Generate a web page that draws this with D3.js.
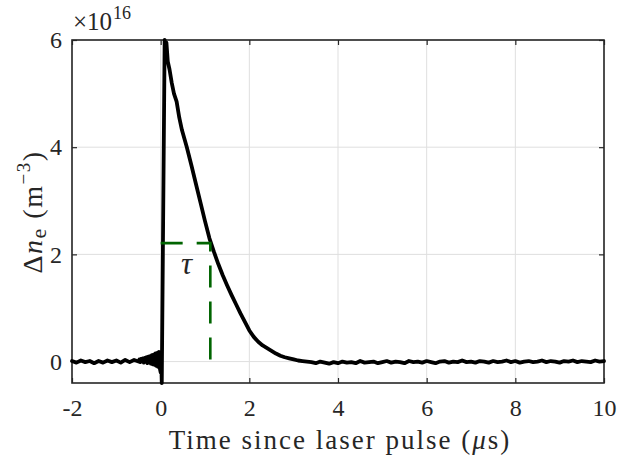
<!DOCTYPE html>
<html>
<head>
<meta charset="utf-8">
<script src="https://cdn.jsdelivr.net/npm/d3@7"></script>
<style>
  html, body { margin: 0; padding: 0; background: #fff; }
  svg { display: block; }
  text { font-family: "Liberation Serif", "DejaVu Serif", serif; fill: #262626; }
</style>
</head>
<body>
<svg id="chart" width="618" height="462"></svg>
<script>
// ---- data ----
const timeUs = [
  -2.0,-1.9,-1.8,-1.7,-1.6,-1.5,-1.4,-1.3,-1.2,-1.1,-1.0,-0.9,-0.8,-0.7,-0.6,-0.5,
  -0.48,-0.46,-0.44,-0.42,-0.40,-0.38,-0.36,-0.34,-0.32,-0.30,-0.28,-0.26,-0.24,-0.22,-0.20,
  -0.18,-0.16,-0.14,-0.12,-0.10,-0.08,-0.06,-0.04,-0.02,0.0,
  0.01,0.025,0.09,0.11,0.13,0.16,0.20,0.25,0.30,0.36,0.42,0.48,0.59,
  0.7,0.8,0.9,1.0,1.1,1.2,1.3,1.4,1.5,1.6,1.7,1.8,1.9,2.0,2.1,2.2,2.3,2.4,2.5,2.6,2.7,2.8,2.9,3.0,3.1,3.2,3.3,
  3.4,3.5,3.6,3.7,3.8,3.9,4.0,4.1,4.2,4.3,4.4,4.5,4.6,4.7,4.8,4.9,5.0,5.1,5.2,5.3,
  5.4,5.5,5.6,5.7,5.8,5.9,6.0,6.1,6.2,6.3,6.4,6.5,6.6,6.7,6.8,6.9,7.0,7.1,7.2,7.3,
  7.4,7.5,7.6,7.7,7.8,7.9,8.0,8.1,8.2,8.3,8.4,8.5,8.6,8.7,8.8,8.9,9.0,9.1,9.2,9.3,
  9.4,9.5,9.6,9.7,9.8,9.9,10.0
];
// Δn_e in units of 1e16 m^-3
const deltaNe = [
  0.01,-0.02,0.02,-0.01,0.01,-0.03,0.01,-0.02,0.02,-0.01,0.02,-0.02,0.03,-0.01,0.03,0.00,
  0.04,-0.01,0.05,0.00,0.06,-0.02,0.07,0.00,0.08,-0.03,0.09,-0.02,0.10,-0.04,0.12,
  -0.05,0.13,-0.06,0.15,-0.08,0.16,-0.10,0.18,-0.12,-0.20,
  0.10,-0.40,6.00,5.80,5.95,5.60,5.45,5.20,5.00,4.85,4.55,4.32,4.00,
  3.64,3.30,2.96,2.62,2.30,2.05,1.82,1.61,1.42,1.24,1.07,0.90,0.74,0.58,0.46,0.37,0.30,0.25,0.20,0.15,0.11,0.08,0.06,0.04,0.02,0.01,0.00,
  -0.01,-0.03,0.00,-0.02,-0.04,-0.01,-0.03,0.00,-0.02,-0.01,
  -0.03,0.01,-0.02,-0.01,0.00,-0.03,-0.01,0.01,-0.02,0.00,
  -0.01,-0.03,0.01,-0.01,0.00,-0.02,0.01,-0.01,-0.03,0.00,
  0.01,-0.02,0.00,-0.01,0.02,-0.01,0.00,-0.02,0.01,0.00,
  -0.02,0.01,-0.01,0.00,0.02,-0.01,0.01,-0.02,0.00,0.01,
  -0.01,0.00,0.02,-0.01,0.01,0.00,-0.02,0.01,0.00,0.02,
  -0.01,0.01,0.00,-0.01,0.02,0.00,0.01
];
const xTicks = [-2, 0, 2, 4, 6, 8, 10];
const yTicks = [0, 2, 4, 6];
const xTickLabels = ["-2", "0", "2", "4", "6", "8", "10"];
const yTickLabels = ["0", "2", "4", "6"];
const xDomain = [-2, 10];
const yDomain = [-0.4, 6];
const tauTime = 1.12;
const tauLevel = 2.21;   // 6/e

// ---- layout ----
const svg = d3.select("#chart");
const pL = 72, pR = 604, pT = 40, pB = 383;
const x = d3.scaleLinear().domain(xDomain).range([pL, pR]);
const y = d3.scaleLinear().domain(yDomain).range([pB, pT]);
const fs = 24;

// grid
const grid = svg.append("g");
grid.selectAll("line.gx").data(xTicks).join("line")
  .attr("x1", d => x(d)).attr("x2", d => x(d)).attr("y1", pT).attr("y2", pB)
  .attr("stroke", "#dfdfdf").attr("stroke-width", 1);
grid.selectAll("line.gy").data(yTicks).join("line")
  .attr("y1", d => y(d)).attr("y2", d => y(d)).attr("x1", pL).attr("x2", pR)
  .attr("stroke", "#dfdfdf").attr("stroke-width", 1);

// axes (ticks inward, on all four sides)
function styleAxis(g) {
  g.select(".domain").remove();
  g.selectAll(".tick line").attr("stroke", "#262626").attr("stroke-width", 1.2);
  g.selectAll(".tick text").attr("font-size", fs).attr("fill", "#262626")
    .style("font-family", '"Liberation Serif", "DejaVu Serif", serif');
}
svg.append("g").attr("transform", `translate(0,${pB})`)
  .call(d3.axisBottom(x).tickValues(xTicks).tickSize(-5).tickPadding(16)
    .tickFormat((d, i) => xTickLabels[i]))
  .call(styleAxis);
svg.append("g").attr("transform", `translate(0,${pT})`)
  .call(d3.axisTop(x).tickValues(xTicks).tickSize(-5).tickFormat(""))
  .call(styleAxis);
svg.append("g").attr("transform", `translate(${pL},0)`)
  .call(d3.axisLeft(y).tickValues(yTicks).tickSize(-5).tickPadding(10)
    .tickFormat((d, i) => yTickLabels[i]))
  .call(styleAxis);
svg.append("g").attr("transform", `translate(${pR},0)`)
  .call(d3.axisRight(y).tickValues(yTicks).tickSize(-5).tickFormat(""))
  .call(styleAxis);

// box
svg.append("rect").attr("x", pL).attr("y", pT).attr("width", pR - pL).attr("height", pB - pT)
  .attr("fill", "none").attr("stroke", "#262626").attr("stroke-width", 1.6);

// data curve
const pts = timeUs.map((t, i) => [t, deltaNe[i]]);
svg.append("path").datum(pts)
  .attr("d", d3.line().x(d => x(d[0])).y(d => y(d[1])))
  .attr("fill", "none").attr("stroke", "#000").attr("stroke-width", 3.8)
  .attr("stroke-linejoin", "round").attr("stroke-linecap", "round");

// tau marker
svg.append("path").datum([[0, tauLevel], [tauTime, tauLevel], [tauTime, 0]])
  .attr("d", d3.line().x(d => x(d[0])).y(d => y(d[1])))
  .attr("fill", "none").attr("stroke", "#006400").attr("stroke-width", 2.6)
  .attr("stroke-dasharray", "22,14");
svg.append("text").attr("x", x(tauTime / 2) + 1).attr("y", 274).attr("text-anchor", "middle")
  .attr("font-size", 31).attr("font-style", "italic").attr("fill", "#000").text("τ");

// exponent label
const ex = svg.append("text").attr("x", 73).attr("y", 30).attr("font-size", 25);
ex.append("tspan").text("×10");
ex.append("tspan").attr("font-size", 18).attr("dy", -11).attr("dx", 1).text("16");

// x label
svg.append("text").attr("x", (pL + pR) / 2 + 2).attr("y", 449).attr("text-anchor", "middle")
  .attr("font-size", 27).attr("letter-spacing", 2).text("Time since laser pulse (")
  .call(t => { t.append("tspan").attr("font-style", "italic").text("μ"); t.append("tspan").text("s)"); });

// y label
const yl = svg.append("text").attr("transform", `translate(42,212) rotate(-90)`)
  .attr("text-anchor", "middle").attr("font-size", 28).attr("letter-spacing", 1.5);
yl.append("tspan").text("Δ");
yl.append("tspan").attr("font-style", "italic").text("n");
yl.append("tspan").attr("font-size", 22).attr("dy", 4).text("e");
yl.append("tspan").attr("dy", -4).text(" (m");
yl.append("tspan").attr("font-size", 19).attr("dy", -12).text("−3");
yl.append("tspan").attr("dy", 12).text(")");
</script>
</body>
</html>
